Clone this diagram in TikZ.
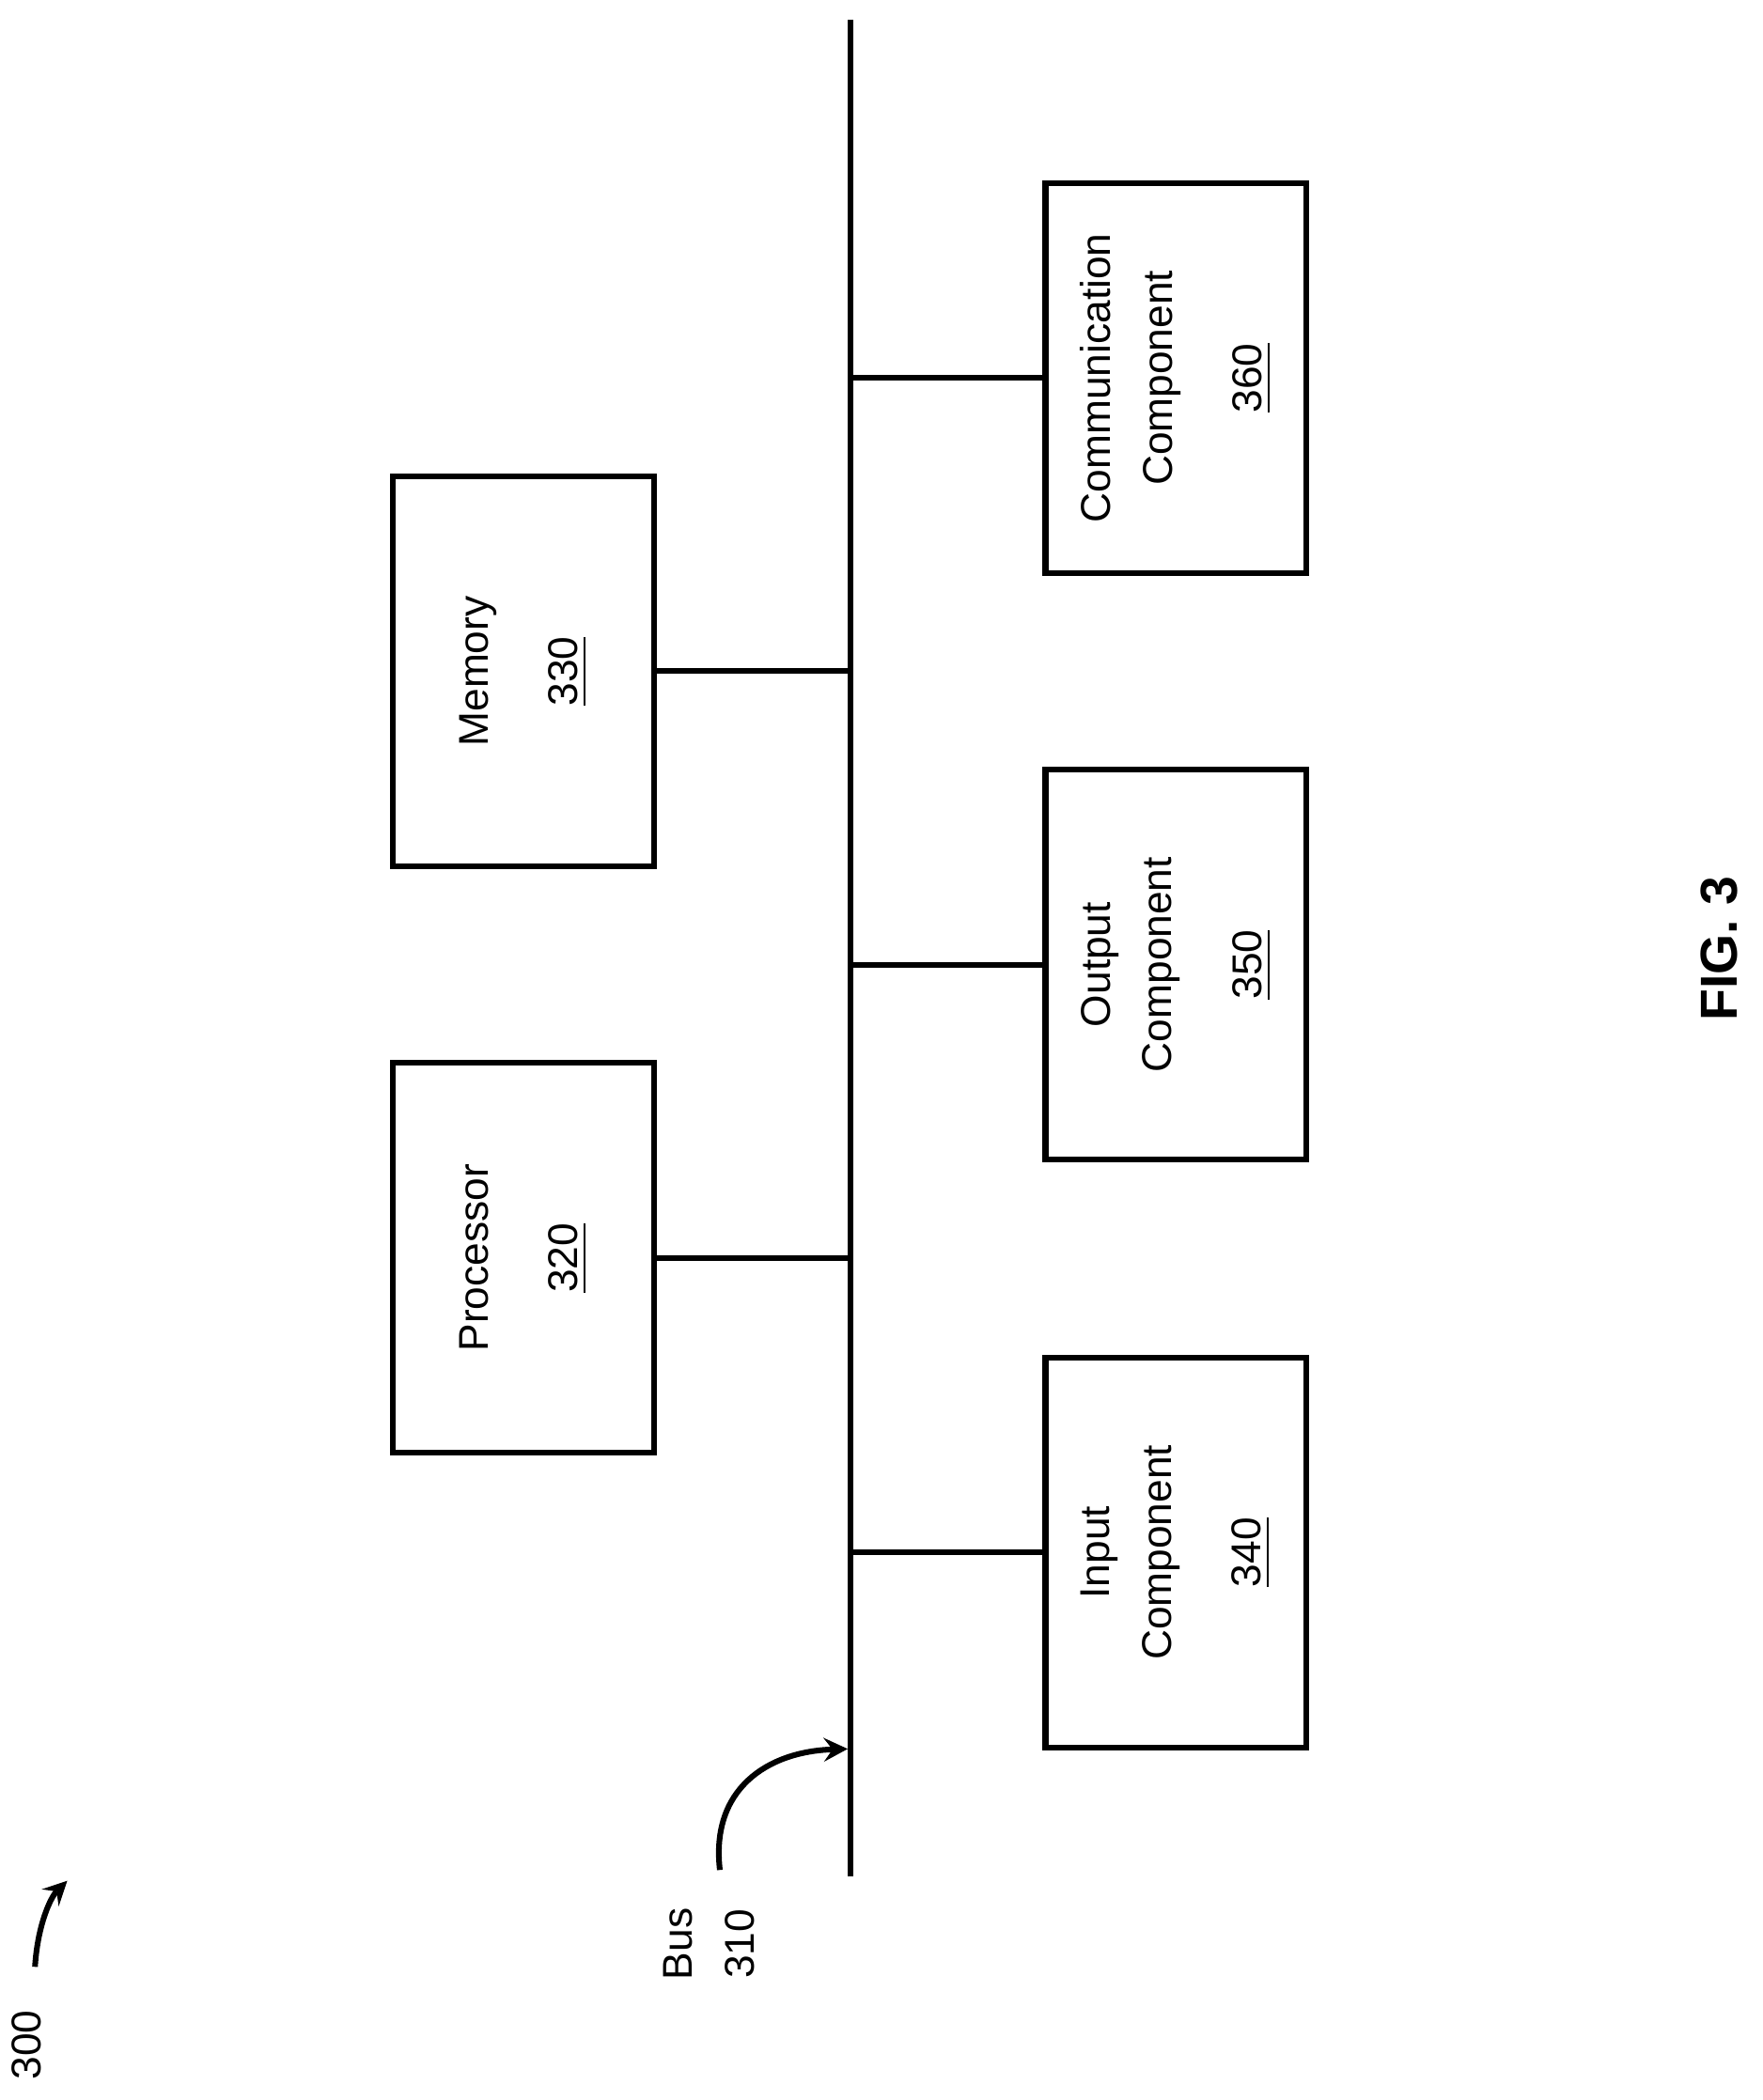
\documentclass[tikz,border=0pt]{standalone}
\usepackage{fontspec}
\setmainfont{Liberation Sans}
\begin{document}
\begin{tikzpicture}[x=0.1mm,y=-0.1mm,
  box/.style={draw,line width=1.2pt},
  lbl/.style={rotate=90,align=center,font=\fontsize{8.8}{13}\selectfont},
  ln/.style={line width=1.2pt}]
\useasboundingbox (0,0) rectangle (1310,1561);
\coordinate (bt) at (632,15);
\coordinate (bb) at (632,1395);
\draw[ln] (bt)--(bb);
\newcommand{\blk}[5]{%
 \draw[box] (#1,#2) rectangle (#1+194,#2+290);
 \node[lbl] (#5) at (#1+97,#2+145) {#3\\[6pt]\underline{#4}};}
\blk{292}{790}{Processor}{320}{proc}
\blk{292}{354}{Memory}{330}{mem}
\blk{777}{1009}{Input\\Component}{340}{inp}
\blk{777}{572}{Output\\Component}{350}{out}
\blk{777}{136}{Communication\\Component}{360}{com}
\draw[ln] (487,935)--(632,935);
\draw[ln] (487,499)--(632,499);
\draw[ln] (632,1154)--(777,1154);
\draw[ln] (632,717)--(777,717);
\draw[ln] (632,281)--(777,281);
\node[rotate=90,font=\bfseries\fontsize{11}{13}\selectfont] (fig) at (1278,705) {FIG. 3};
\node[lbl] (bus) at (527,1445) {Bus\\310};
\coordinate (ba) at (535,1390);
\coordinate (bh) at (630,1300);
\draw[ln,-stealth] (ba) .. controls (528,1330) and (570,1302) .. (bh);
\node[lbl] (n300) at (20,1520) {300};
\coordinate (a1) at (26,1462);
\coordinate (a2) at (50,1398);
\draw[ln,-stealth] (a1) .. controls (28,1430) and (38,1410) .. (a2);
\end{tikzpicture}
\end{document}
